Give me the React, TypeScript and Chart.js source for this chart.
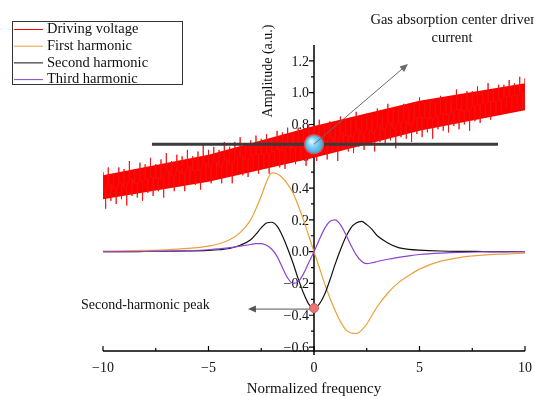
import React, { useEffect, useRef } from 'react';
import { Chart, registerables } from 'chart.js';

Chart.register(...registerables);

const SERIF = '"Liberation Serif", "Times New Roman", serif';

// Axis ticks
const xTickValues = [-10, -5, 0, 5, 10];
const xMinorTickValues = [-7.5, -2.5, 2.5, 7.5];
const yTickValues = [-0.6, -0.4, -0.2, 0, 0.2, 0.4, 0.6, 0.8, 1.0, 1.2];

const seriesNames = ['Driving voltage', 'First harmonic', 'Second harmonic', 'Third harmonic'];
const seriesColors = ['#ff0000', '#eba13b', '#111111', '#8b45d0'];

// Driving voltage: ramp with a fast modulation, given as the crest and trough of each cycle
const voltageStartX = -10;
const voltageStepX = 0.25;
const voltagePeaks = [
  0.50, 0.53, 0.49, 0.53, 0.52, 0.57, 0.52, 0.56, 0.55, 0.59,
  0.55, 0.58, 0.62, 0.57, 0.61, 0.60, 0.64, 0.60, 0.63, 0.67,
  0.64, 0.66, 0.64, 0.69, 0.66, 0.69, 0.72, 0.68, 0.70, 0.73,
  0.71, 0.74, 0.71, 0.76, 0.75, 0.78, 0.75, 0.78, 0.76, 0.80,
  0.79, 0.83, 0.80, 0.82, 0.80, 0.85, 0.83, 0.83, 0.88, 0.84,
  0.87, 0.86, 0.90, 0.86, 0.93, 0.90, 0.90, 0.93, 0.90, 0.94,
  0.97, 0.93, 0.96, 0.94, 0.98, 0.97, 0.97, 1.02, 0.97, 1.01,
  1.01, 1.04, 1.01, 1.06, 1.02, 1.05, 1.05, 1.08, 1.06, 1.10,
  1.09,
];
const voltageTroughs = [
  0.27, 0.32, 0.30, 0.33, 0.29, 0.35, 0.34, 0.32, 0.37, 0.35,
  0.38, 0.34, 0.40, 0.38, 0.41, 0.38, 0.43, 0.42, 0.39, 0.44,
  0.43, 0.47, 0.43, 0.47, 0.43, 0.50, 0.48, 0.47, 0.52, 0.49,
  0.52, 0.49, 0.55, 0.53, 0.52, 0.56, 0.55, 0.58, 0.54, 0.59,
  0.57, 0.61, 0.58, 0.62, 0.57, 0.64, 0.63, 0.62, 0.66, 0.64,
  0.67, 0.63, 0.69, 0.67, 0.70, 0.65, 0.72, 0.71, 0.69, 0.74,
  0.72, 0.75, 0.71, 0.77, 0.76, 0.75, 0.79, 0.77, 0.80, 0.76,
  0.82, 0.81, 0.85, 0.83, 0.87, 0.86, 0.90, 0.88, 0.90, 0.89,
  0.90,
];
// Solid body of the driving-voltage band
const voltageCoreX = [-10, -5, 0, 5, 10];
const voltageCoreTop = [0.48, 0.61, 0.79, 0.95, 1.06];
const voltageCoreBottom = [0.33, 0.44, 0.59, 0.76, 0.89];

// Harmonic signals
const harmonicX = [
  -10, -9, -8, -7, -6, -5, -4.5, -4, -3.5, -3,
  -2.75, -2.5, -2.25, -2, -1.75, -1.5, -1.25, -1, -0.75, -0.5, -0.25,
  0,
  0.25, 0.5, 0.75, 1, 1.25, 1.5, 1.75, 2, 2.25, 2.5, 2.75,
  3, 3.5, 4, 4.5, 5, 6, 7, 8, 9, 10,
];
const firstHarmonic = [
  0.003, 0.005, 0.008, 0.012, 0.02, 0.035, 0.05, 0.075, 0.12, 0.20,
  0.27, 0.35, 0.44, 0.495, 0.49, 0.465, 0.425, 0.37, 0.29, 0.20, 0.10,
  0,
  -0.10, -0.20, -0.29, -0.37, -0.44, -0.49, -0.512, -0.515, -0.495, -0.455, -0.40,
  -0.345, -0.26, -0.195, -0.15, -0.11, -0.06, -0.035, -0.022, -0.015, -0.01,
];
const secondHarmonic = [
  0, 0, 0.001, 0.002, 0.004, 0.008, 0.012, 0.02, 0.04, 0.075,
  0.11, 0.15, 0.18, 0.185, 0.16, 0.10, 0.02, -0.07, -0.17, -0.26, -0.33,
  -0.355,
  -0.33, -0.27, -0.18, -0.08, 0.01, 0.09, 0.15, 0.18, 0.19, 0.17, 0.14,
  0.10, 0.055, 0.025, 0.014, 0.009, 0.004, 0.002, 0.001, 0, 0,
];
const thirdHarmonic = [
  0, 0, 0.001, 0.003, 0.006, 0.012, 0.018, 0.025, 0.035, 0.045,
  0.05, 0.05, 0.04, 0.015, -0.03, -0.10, -0.165, -0.20, -0.19, -0.14, -0.07,
  0,
  0.075, 0.145, 0.19, 0.20, 0.17, 0.11, 0.04, -0.02, -0.06, -0.075, -0.07,
  -0.062, -0.048, -0.036, -0.026, -0.018, -0.009, -0.004, -0.002, -0.001, 0,
];

// Annotation anchors (data coordinates)
const absorptionCenter = { x: 0, y: 0.676 };
const absorptionLineX = [-7.68, 8.72];
const absorptionArrowTip = { x: 4.45, y: 1.18 };
const peakArrowTipX = -3.13;
const absorptionLabel = ['Gas absorption center driven', 'current'];
const peakLabel = 'Second-harmonic peak';
const xTitle = 'Normalized frequency';
const yTitle = 'Amplitude (a.u.)';

const pairs = (xs: number[], ys: number[]) => xs.map((x, i) => ({ x, y: ys[i] }));

// Each modulation cycle is drawn as a thin upward stroke to its crest
// and a thin downward stroke to its trough, both rising from the band body.
function voltageTrace() {
  const pts: { x: number; y: number }[] = [];
  voltagePeaks.forEach((p, i) => {
    const t = voltageTroughs[i];
    const mid = (p + t) / 2;
    const x = voltageStartX + i * voltageStepX;
    const xt = Math.min(x + voltageStepX / 2, 10);
    pts.push({ x, y: mid }, { x, y: p }, { x, y: mid });
    pts.push({ x: xt, y: mid }, { x: xt, y: t }, { x: xt, y: mid });
  });
  return pts;
}

const fmt = (v: number) => (v < 0 ? '\u2212' : '') + Math.abs(v).toFixed(1);
const fmtInt = (v: number) => (v < 0 ? '\u2212' : '') + Math.abs(v).toString();

function arrow(ctx: CanvasRenderingContext2D, x1: number, y1: number, x2: number, y2: number, color: string) {
  const a = Math.atan2(y2 - y1, x2 - x1);
  const len = 8;
  const hw = 3.5;
  ctx.save();
  ctx.strokeStyle = color;
  ctx.fillStyle = color;
  ctx.lineWidth = 1;
  ctx.beginPath();
  ctx.moveTo(x1, y1);
  ctx.lineTo(x2 - Math.cos(a) * len * 0.6, y2 - Math.sin(a) * len * 0.6);
  ctx.stroke();
  ctx.beginPath();
  ctx.moveTo(x2, y2);
  ctx.lineTo(x2 - Math.cos(a) * len - Math.sin(a) * hw, y2 - Math.sin(a) * len + Math.cos(a) * hw);
  ctx.lineTo(x2 - Math.cos(a) * len + Math.sin(a) * hw, y2 - Math.sin(a) * len - Math.cos(a) * hw);
  ctx.closePath();
  ctx.fill();
  ctx.restore();
}

const axesPlugin = {
  id: 'centeredAxes',
  beforeDatasetsDraw(chart: any) {
    const { ctx, chartArea, scales } = chart;
    const xs = scales.x;
    const ys = scales.y;
    const x0 = xs.getPixelForValue(0);
    const bottom = chartArea.bottom;
    ctx.save();
    ctx.strokeStyle = '#000';
    ctx.lineWidth = 1.5;
    ctx.beginPath();
    ctx.moveTo(x0, chartArea.top);
    ctx.lineTo(x0, bottom + 4);
    ctx.moveTo(chartArea.left, bottom);
    ctx.lineTo(chartArea.right, bottom);
    ctx.stroke();

    ctx.lineWidth = 1.2;
    ctx.beginPath();
    yTickValues.forEach((v) => {
      const py = ys.getPixelForValue(v);
      ctx.moveTo(x0 - 5, py);
      ctx.lineTo(x0, py);
      if (v < 1.2) {
        const pm = ys.getPixelForValue(v + 0.1);
        ctx.moveTo(x0 - 3, pm);
        ctx.lineTo(x0, pm);
      }
    });
    xTickValues.forEach((v) => {
      const px = xs.getPixelForValue(v);
      ctx.moveTo(px, bottom);
      ctx.lineTo(px, bottom - 5);
    });
    xMinorTickValues.forEach((v) => {
      const px = xs.getPixelForValue(v);
      ctx.moveTo(px, bottom);
      ctx.lineTo(px, bottom - 3);
    });
    ctx.stroke();

    ctx.fillStyle = '#111';
    ctx.font = `14px ${SERIF}`;
    ctx.textAlign = 'right';
    ctx.textBaseline = 'middle';
    yTickValues.forEach((v) => {
      ctx.fillText(fmt(v), x0 - 5, ys.getPixelForValue(v) + 1);
    });
    ctx.textAlign = 'center';
    xTickValues.forEach((v) => {
      ctx.fillText(fmtInt(v), xs.getPixelForValue(v), bottom + 17);
    });
    ctx.restore();
  },
  afterDatasetsDraw(chart: any) {
    const { ctx, scales } = chart;
    const xs = scales.x;
    const ys = scales.y;
    const cx = xs.getPixelForValue(absorptionCenter.x);
    const cy = ys.getPixelForValue(absorptionCenter.y);

    ctx.save();
    // horizontal marker through the absorption centre
    ctx.strokeStyle = '#3a3a3a';
    ctx.lineWidth = 3;
    ctx.beginPath();
    ctx.moveTo(xs.getPixelForValue(absorptionLineX[0]), cy);
    ctx.lineTo(xs.getPixelForValue(absorptionLineX[1]), cy);
    ctx.stroke();

    // blue marker ball
    const r = 9.5;
    const g = ctx.createRadialGradient(cx - 3, cy - 3, 1, cx, cy, r);
    g.addColorStop(0, '#d4f3ff');
    g.addColorStop(0.45, '#7fd0f4');
    g.addColorStop(1, '#3aa5dc');
    ctx.fillStyle = g;
    ctx.beginPath();
    ctx.arc(cx, cy, r, 0, Math.PI * 2);
    ctx.fill();
    ctx.strokeStyle = 'rgba(215,90,90,0.85)';
    ctx.lineWidth = 1.5;
    ctx.stroke();

    arrow(ctx, cx, cy, xs.getPixelForValue(absorptionArrowTip.x), ys.getPixelForValue(absorptionArrowTip.y), '#6a6a6a');

    // second-harmonic minimum
    const minV = Math.min(...secondHarmonic);
    const minX = harmonicX[secondHarmonic.indexOf(minV)];
    const dx = xs.getPixelForValue(minX);
    const dy = ys.getPixelForValue(minV);
    arrow(ctx, dx - 2, dy + 1, xs.getPixelForValue(peakArrowTipX), dy + 1, '#555');
    ctx.fillStyle = '#e87474';
    ctx.strokeStyle = '#d65a5a';
    ctx.lineWidth = 1;
    ctx.beginPath();
    ctx.arc(dx, dy, 4.5, 0, Math.PI * 2);
    ctx.fill();
    ctx.stroke();

    // text annotations
    ctx.fillStyle = '#111';
    ctx.font = `14.5px ${SERIF}`;
    ctx.textAlign = 'center';
    ctx.textBaseline = 'middle';
    ctx.fillText(absorptionLabel[0], 454, 20);
    ctx.fillText(absorptionLabel[1], 452, 38);
    ctx.font = `14px ${SERIF}`;
    ctx.textAlign = 'left';
    ctx.fillText(peakLabel, 81, 305);

    ctx.textAlign = 'center';
    ctx.font = `15px ${SERIF}`;
    ctx.fillText(xTitle, xs.getPixelForValue(0), 389);
    ctx.font = `14px ${SERIF}`;
    ctx.translate(268, 71);
    ctx.rotate(-Math.PI / 2);
    ctx.fillText(yTitle, 0, 0);
    ctx.restore();

    // legend
    ctx.save();
    ctx.fillStyle = '#fff';
    ctx.fillRect(12.5, 21.5, 170, 63);
    ctx.strokeStyle = '#333';
    ctx.lineWidth = 1;
    ctx.strokeRect(12.5, 21.5, 170, 63);
    ctx.font = `14.5px ${SERIF}`;
    ctx.textAlign = 'left';
    ctx.textBaseline = 'middle';
    seriesNames.forEach((name, i) => {
      const y = 29.5 + i * 16.7;
      ctx.strokeStyle = seriesColors[i];
      ctx.beginPath();
      ctx.moveTo(14, y);
      ctx.lineTo(43, y);
      ctx.stroke();
      ctx.fillStyle = '#111';
      ctx.fillText(name, 47, y);
    });
    ctx.restore();
  },
};

export default function App() {
  const canvasRef = useRef<HTMLCanvasElement | null>(null);

  useEffect(() => {
    if (!canvasRef.current) return;
    const line = (label: string, data: any[], color: string, extra: any = {}) => ({
      label,
      data,
      borderColor: color,
      backgroundColor: color,
      borderWidth: 1.2,
      pointRadius: 0,
      fill: false,
      ...extra,
    });
    const chart = new Chart(canvasRef.current, {
      type: 'line',
      data: {
        datasets: [
          line(seriesNames[3], pairs(harmonicX, thirdHarmonic), seriesColors[3], { cubicInterpolationMode: 'monotone' }),
          line(seriesNames[2], pairs(harmonicX, secondHarmonic), seriesColors[2], { cubicInterpolationMode: 'monotone' }),
          line(seriesNames[1], pairs(harmonicX, firstHarmonic), seriesColors[1], { cubicInterpolationMode: 'monotone' }),
          line(seriesNames[0], voltageTrace(), 'rgba(240,20,20,0.9)', { borderWidth: 1, tension: 0 }),
          line('core top', pairs(voltageCoreX, voltageCoreTop), '#ff0000', { borderWidth: 0, fill: '+1' }),
          line('core bottom', pairs(voltageCoreX, voltageCoreBottom), '#ff0000', { borderWidth: 0 }),
        ],
      },
      options: {
        animation: false,
        responsive: false,
        events: [],
        layout: { padding: { left: 103, right: 9, top: 45, bottom: 45 } },
        scales: {
          x: { type: 'linear', min: -10, max: 10, display: false },
          y: { type: 'linear', min: -0.625, max: 1.3, display: false },
        },
        plugins: {
          legend: { display: false },
          tooltip: { enabled: false },
        },
      },
      plugins: [axesPlugin],
    });
    return () => chart.destroy();
  }, []);

  return (
    <div style={{ position: 'fixed', left: 0, top: 0, width: 534, height: 396, background: '#fff' }}>
      <canvas ref={canvasRef} width={534} height={396} style={{ display: 'block' }} />
    </div>
  );
}
